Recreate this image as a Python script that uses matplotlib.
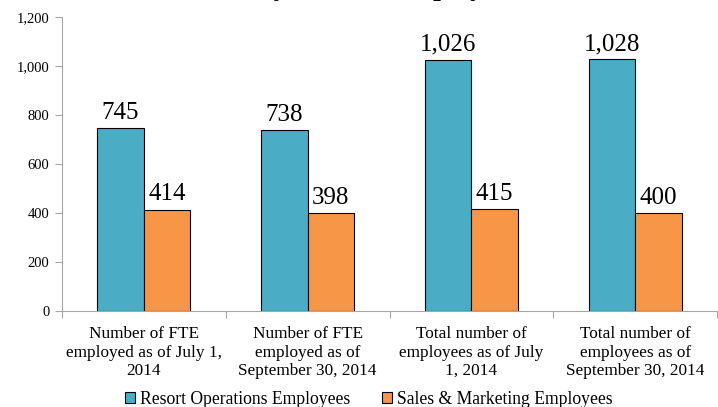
import matplotlib
matplotlib.use("Agg")
import matplotlib.pyplot as plt
import numpy as np
from matplotlib.ticker import FuncFormatter

plt.rcParams['font.family'] = ['Liberation Serif', 'DejaVu Serif']

categories = [
    "Number of FTE\nemployed as of July 1,\n2014",
    "Number of FTE\nemployed as of\nSeptember 30, 2014",
    "Total number of\nemployees as of July\n1, 2014",
    "Total number of\nemployees as of\nSeptember 30, 2014",
]
resort_ops = [745, 738, 1026, 1028]
sales_mkt = [414, 398, 415, 400]
series_names = ["Resort Operations Employees", "Sales & Marketing Employees"]
title = "Summary of Total Employees"

W, H = 718, 407
fig = plt.figure(figsize=(W / 100, H / 100), dpi=100)
ax = fig.add_axes([62 / W, 1 - 311 / H, (717 - 62) / W, (311 - 17) / H])

x = np.arange(len(categories))
bw = 0.284
b1 = ax.bar(x - bw / 2, resort_ops, bw, color="#4BACC6", edgecolor="black", linewidth=0.8,
            label=series_names[0])
b2 = ax.bar(x + bw / 2, sales_mkt, bw, color="#F79646", edgecolor="black", linewidth=0.8,
            label=series_names[1])
for bars in (b1, b2):
    ax.bar_label(bars, labels=[f"{v:,}" for v in bars.datavalues], fontsize=18, padding=3)

ax.set_ylim(0, 1200)
ax.set_yticks(np.arange(0, 1201, 200))
ax.yaxis.set_major_formatter(FuncFormatter(lambda v, p: f"{int(v):,}"))
ax.set_xlim(-0.5, len(categories) - 0.5)
ax.set_xticks(np.arange(-0.5, len(categories), 1.0))
ax.set_xticklabels([])
ax.set_xticks(x, minor=True)
ax.set_xticklabels(categories, minor=True, fontsize=12.4, linespacing=1.2)
ax.tick_params(axis='x', which='minor', length=0, pad=11)
ax.tick_params(axis='x', which='major', length=5, color="#A6A6A6")
ax.tick_params(axis='y', length=5, color="#A6A6A6", labelsize=10.5, pad=4)
for s in ("top", "right"):
    ax.spines[s].set_visible(False)
for s in ("left", "bottom"):
    ax.spines[s].set_color("#A6A6A6")

ax.legend(loc="center", bbox_to_anchor=(369 / W, (H - 399) / H), bbox_transform=fig.transFigure,
          ncol=2, frameon=False, fontsize=12.7, handlelength=0.55, handleheight=0.55,
          handletextpad=0.3, columnspacing=1.8, borderaxespad=0)

fig.text(345 / W, 1 + 4.8 / H, title, ha="center", va="baseline", fontsize=20, fontweight="bold")

fig.savefig("out.png", dpi=100)
